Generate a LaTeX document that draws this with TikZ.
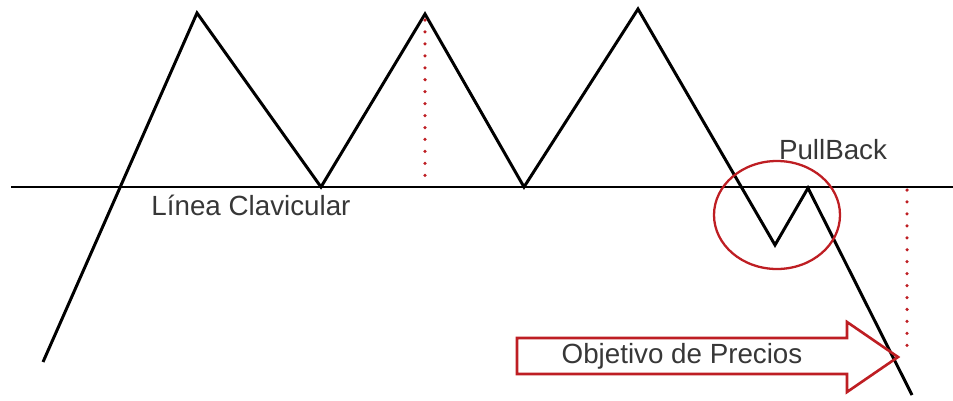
\documentclass[tikz,border=0pt]{standalone}
\usepackage{fontspec}
\setmainfont{Liberation Sans}
\usetikzlibrary{calc}
\definecolor{trendred}{RGB}{190, 30, 35}
\definecolor{labelgray}{RGB}{55, 55, 55}

\begin{document}
\begin{tikzpicture}[x=0.02cm, y=-0.02cm,
    price/.style={black, line width=1.7pt, line join=miter},
    neckline/.style={black, line width=1.2pt},
    target/.style={trendred, line width=2pt, line cap=round, dash pattern=on 0pt off 6.8pt},
    tag/.style={font=\fontsize{15.8}{18}\selectfont, text=labelgray, inner sep=0pt}]
    \useasboundingbox (0,0) rectangle (953,400);
    % Price points
    \coordinate (p0) at (43,362);
    \coordinate (h1) at (197,13);
    \coordinate (v1) at (321,187);
    \coordinate (h2) at (425,14);
    \coordinate (v2) at (524,187);
    \coordinate (h3) at (638,9);
    \coordinate (v3) at (775,245);
    \coordinate (pb) at (808,188);
    \coordinate (p9) at (912,395);
    \draw[price] (p0) -- (h1) -- (v1) -- (h2) -- (v2) -- (h3) -- (v3) -- (pb) -- (p9);

    % Neckline
    \coordinate (nl) at (11,187);
    \coordinate (nr) at (953,187);
    \draw[neckline] (nl) -- (nr);
    \node[tag] (linea) at (251,205) {Línea Clavicular};

    % Pattern height and projection
    \coordinate (h2base) at (425,185);
    \draw[target] ($(h2)+(0,6)$) -- (h2base);
    \coordinate (projtop) at (907,190);
    \coordinate (projend) at (907,356);
    \draw[target] (projtop) -- (projend);

    % PullBack
    \draw[trendred, line width=1.3pt] (777,215) ellipse (63 and 54);
    \node[tag] (pullback) at (833,150) {PullBack};

    % Target arrow
    \coordinate (a1) at (517,338);
    \coordinate (a2) at (847,338);
    \coordinate (a3) at (847,322);
    \coordinate (tip) at (898,357);
    \coordinate (a5) at (847,392);
    \coordinate (a6) at (847,374);
    \coordinate (a7) at (517,374);
    \draw[trendred, line width=1.5pt, line join=miter] (a1) -- (a2) -- (a3) -- (tip) -- (a5) -- (a6) -- (a7) -- cycle;
    \node[tag] (objetivo) at (682,356) {Objetivo de Precios};
\end{tikzpicture}
\end{document}
